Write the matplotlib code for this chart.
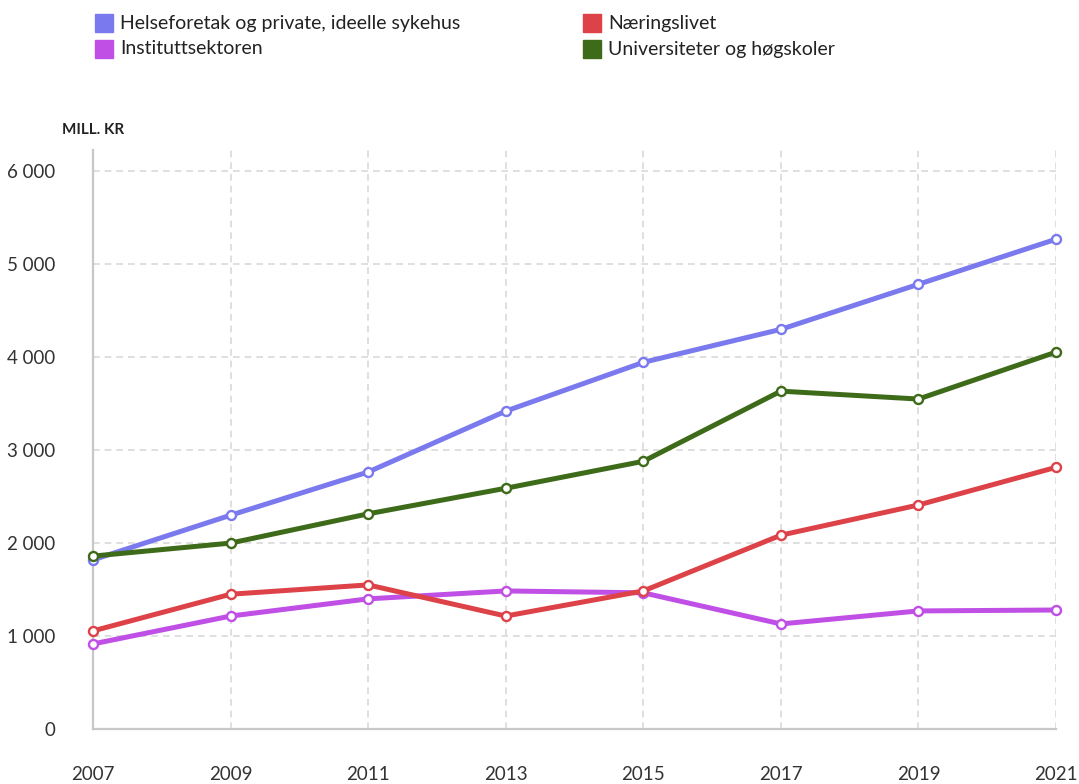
import numpy as np
import matplotlib.pyplot as plt
from matplotlib.patches import Rectangle

plt.rcParams['font.family'] = ['Lato', 'DejaVu Sans']

years = [2007, 2009, 2011, 2013, 2015, 2017, 2019, 2021]
helse = [1820, 2300, 2765, 3420, 3945, 4300, 4785, 5270]
naering = [1055, 1450, 1550, 1215, 1485, 2085, 2410, 2815]
institutt = [915, 1215, 1400, 1485, 1465, 1130, 1270, 1280]
univ = [1860, 2000, 2315, 2590, 2880, 3635, 3550, 4055]

names = ['Helseforetak og private, ideelle sykehus', 'Næringslivet',
         'Instituttsektoren', 'Universiteter og høgskoler']
colors = ['#7a7aee', '#dc4247', '#c04fe6', '#3e6b1a']
series = [helse, naering, institutt, univ]
yticks = [0, 1000, 2000, 3000, 4000, 5000, 6000]

fig = plt.figure(figsize=(10.79, 7.84), dpi=100)
ax = fig.add_axes([0.0862, 0.0702, 0.8925, 0.7385])

# draw order: purple and red behind, blue, green on top
for idx in [2, 1, 0, 3]:
    ax.plot(years, series[idx], color=colors[idx], lw=3.6, marker='o',
            markersize=6.5, markerfacecolor='white', markeredgecolor=colors[idx],
            markeredgewidth=1.7, zorder=3, clip_on=False)

ax.set_xlim(2007, 2021)
ax.set_ylim(0, 6230)
ax.set_xticks(years)
ax.set_yticks(yticks)
ax.set_yticklabels([f'{v:,}'.replace(',', ' ') for v in yticks])
ax.grid(True, color='#d9d9d9', linestyle=(0, (4, 3)), linewidth=1.2)
ax.set_axisbelow(True)
for s in ['top', 'right']:
    ax.spines[s].set_visible(False)
for s in ['left', 'bottom']:
    ax.spines[s].set_color('#c8c8c8')
    ax.spines[s].set_linewidth(1.6)
ax.tick_params(length=0, labelsize=13.5, colors='#333333')
ax.tick_params(axis='x', pad=27)
ax.tick_params(axis='y', pad=27)

fig.text(0.057, 0.829, 'MILL. KR', fontsize=11, fontweight='bold', color='#222222')

# legend, two columns, laid out by hand
pos = [(95, 14), (583, 14), (95, 40), (583, 40)]
W, H = 1079, 784
for (px, py), name, c in zip(pos, names, colors):
    fig.patches.append(Rectangle((px / W, 1 - (py + 18) / H), 18 / W, 18 / H,
                                 transform=fig.transFigure, color=c))
    fig.text((px + 25) / W, 1 - (py + 9) / H, name, fontsize=14,
             va='center', color='#222222')

fig.savefig('out.png', dpi=100)
